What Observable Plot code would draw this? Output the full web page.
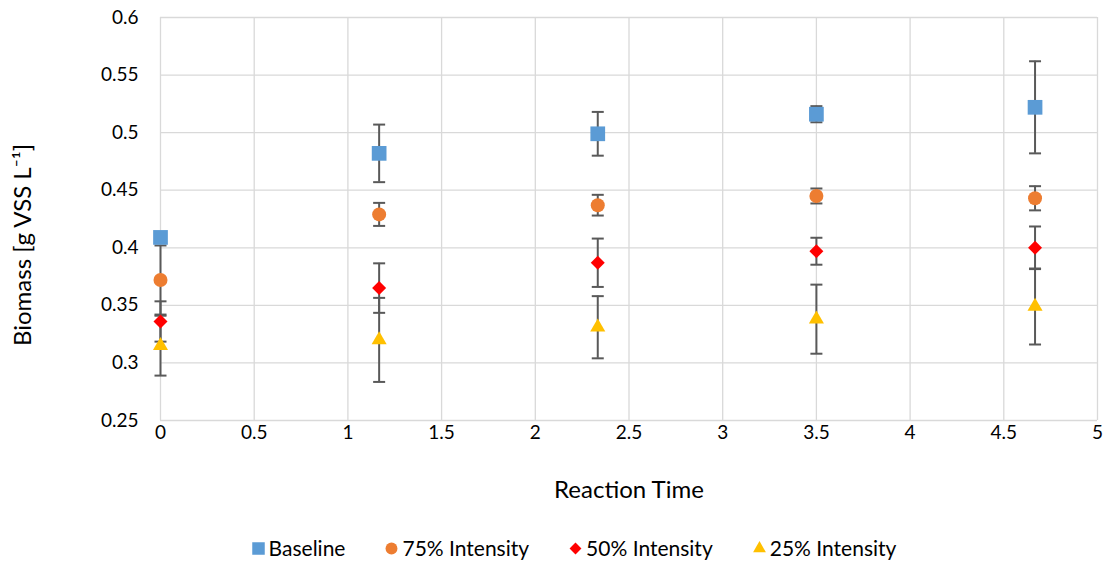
<!DOCTYPE html>
<html>
<head>
<meta charset="utf-8">
<script src="https://cdn.jsdelivr.net/npm/d3@7"></script>
<script src="https://cdn.jsdelivr.net/npm/@observablehq/plot@0.6"></script>
<style>
  html, body { margin: 0; padding: 0; background: #fff; }
  body { width: 1108px; height: 565px; overflow: hidden; font-family: Lato, "Open Sans", sans-serif; }
  #legend { display: flex; justify-content: center; gap: 38px; font-size: 21px; color: #000; margin-top: 20px; padding-left: 38px; }
  #legend .item { display: flex; align-items: center; gap: 3px; }
</style>
</head>
<body>
<div id="chart"></div>
<div id="legend"></div>
<script>
const times = [0, 1.1667, 2.3333, 3.5, 4.6667];
const seriesNames = ["Baseline", "75% Intensity", "50% Intensity", "25% Intensity"];
const baseline = [0.409, 0.482, 0.499, 0.516, 0.522];
const baselineErr = [0.004, 0.025, 0.019, 0.007, 0.040];
const int75 = [0.372, 0.429, 0.437, 0.445, 0.443];
const int75Err = [0.030, 0.010, 0.009, 0.0065, 0.0105];
const int50 = [0.336, 0.365, 0.387, 0.397, 0.400];
const int50Err = [0.0175, 0.0215, 0.021, 0.0117, 0.0185];
const int25 = [0.315, 0.320, 0.331, 0.338, 0.349];
const int25Err = [0.026, 0.0365, 0.027, 0.030, 0.033];
const xTicks = [0, 0.5, 1, 1.5, 2, 2.5, 3, 3.5, 4, 4.5, 5];
const yTicks = [0.25, 0.3, 0.35, 0.4, 0.45, 0.5, 0.55, 0.6];

const colors = ["#5B9BD5", "#ED7D31", "#FF0000", "#FFC000"];
const symbols = ["square", "circle", "diamond2", "triangle"];
const radii = [8.3, 7, 6.3, 5.6];
const values = [baseline, int75, int50, int25];
const errs = [baselineErr, int75Err, int50Err, int25Err];

const data = [];
seriesNames.forEach((s, i) => {
  times.forEach((t, j) => {
    data.push({series: s, idx: i, x: t, y: values[i][j], lo: values[i][j] - errs[i][j], hi: values[i][j] + errs[i][j]});
  });
});

const capSymbol = {
  draw(context) {
    context.moveTo(-6, 0);
    context.lineTo(6, 0);
  }
};

const marks = [
  Plot.gridX(xTicks, {stroke: "#d9d9d9", strokeOpacity: 1, strokeWidth: 1.3}),
  Plot.gridY(yTicks, {stroke: "#d9d9d9", strokeOpacity: 1, strokeWidth: 1.3}),
  Plot.axisX({ticks: xTicks, tickSize: 0, tickPadding: 5, tickFormat: d => String(d), fontSize: 19, label: "Reaction Time", labelAnchor: "center", labelArrow: "none", labelOffset: 77}),
  Plot.axisY({ticks: yTicks, tickSize: 0, tickPadding: 22, tickFormat: d => String(d), fontSize: 19, label: "Biomass [g VSS L⁻¹]", labelAnchor: "center", labelArrow: "none", labelOffset: 150}),
  Plot.ruleX(data, {x: "x", y1: "lo", y2: "hi", stroke: "#595959", strokeWidth: 2}),
  Plot.dot(data, {x: "x", y: "lo", symbol: capSymbol, stroke: "#595959", strokeWidth: 2}),
  Plot.dot(data, {x: "x", y: "hi", symbol: capSymbol, stroke: "#595959", strokeWidth: 2})
];
seriesNames.forEach((s, i) => {
  marks.push(Plot.dot(data.filter(d => d.idx === i), {x: "x", y: "y", symbol: symbols[i], r: radii[i], fill: colors[i], stroke: "none"}));
});

const chart = Plot.plot({
  width: 1108,
  height: 515,
  marginLeft: 160,
  marginRight: 11,
  marginTop: 17,
  marginBottom: 95,
  style: {fontFamily: "Lato, 'Open Sans', sans-serif", fontSize: "19px", color: "#000", background: "#fff"},
  x: {domain: [0, 5]},
  y: {domain: [0.25, 0.6]},
  marks
});
document.getElementById("chart").appendChild(chart);

d3.select(chart).selectAll('[aria-label="x-axis label"] text, [aria-label="y-axis label"] text').attr("font-size", 24);
d3.select(chart).selectAll('[aria-label="y-axis label"] text').each(function() {
  const t = this.getAttribute("transform") || "";
  this.setAttribute("transform", "translate(3,26) " + t);
});

const legend = document.getElementById("legend");
seriesNames.forEach((s, i) => {
  const item = document.createElement("div");
  item.className = "item";
  const sym = Plot.plot({
    width: 16, height: 16, margin: 0, axis: null,
    x: {domain: [0, 1]}, y: {domain: [0, 1]},
    marks: [Plot.dot([{x: 0.5, y: 0.5}], {x: "x", y: "y", symbol: symbols[i], r: radii[i] * 0.85, fill: colors[i]})]
  });
  item.appendChild(sym);
  const label = document.createElement("span");
  label.textContent = s;
  item.appendChild(label);
  legend.appendChild(item);
});
</script>
</body>
</html>
